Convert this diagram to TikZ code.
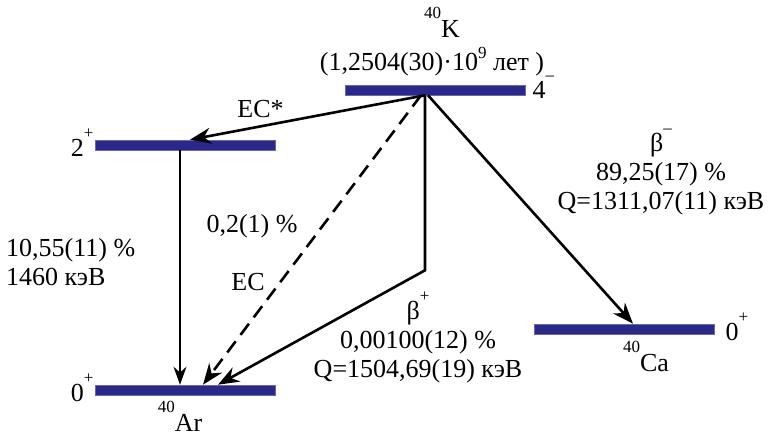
\documentclass[tikz,border=0pt]{standalone}
\usepackage{fontspec}
\setmainfont{Liberation Serif}
\usetikzlibrary{arrows.meta, positioning, calc}
\definecolor{levelblue}{RGB}{42,40,138}
\newcommand{\iso}[2]{\raisebox{0.75em}[0pt][0pt]{\fontsize{17}{17}\selectfont #1}#2}
\newcommand{\spn}[2]{#1\raisebox{0.7em}[0pt][0pt]{\fontsize{17}{17}\selectfont #2}}

\begin{document}
\begin{tikzpicture}[
  x=1pt, y=-1pt,
  level/.style={rectangle, fill=levelblue, draw=levelblue!70, line width=0.6pt,
                minimum width=180pt, minimum height=10pt, inner sep=0pt},
  lbl/.style={font=\fontsize{26}{29}\selectfont, inner sep=1pt, align=center},
  arr/.style={-{Stealth[length=21pt,width=16pt]}, line width=2.6pt},
  thinarr/.style={-{Stealth[length=18pt,width=13pt]}, line width=1.2pt},
]
\useasboundingbox (0,0) rectangle (768,439);

% levels
\node[level] (K) at (435,90) {};
\node[level] (L2) at (185,145) {};
\node[level] (Ar) at (185,390) {};
\node[level] (Ca) at (624,329) {};

% spins and parities
\node[lbl, right=6pt of K] (sK) {\spn{4}{\textendash}};
\node[lbl, left=0pt of L2, yshift=-3pt] (sL2) {\spn{2}{+}};
\node[lbl, left=0pt of Ar, yshift=-3pt] (sAr) {\spn{0}{+}};
\node[lbl, right=10pt of Ca, yshift=-3pt] (sCa) {\spn{0}{+}};

% nuclides
\node[lbl] (nK) at (442,29) {\iso{40}{K}};
\node[lbl] (tK) at (432,64) {(1,2504(30)·10\raisebox{0.45em}[0pt][0pt]{\fontsize{17}{17}\selectfont 9} лет )};
\node[lbl, below=18pt of Ar, xshift=-5pt] (nAr) {\iso{40}{Ar}};
\node[lbl, below=19pt of Ca, xshift=22pt] (nCa) {\iso{40}{Ca}};

% transitions
\coordinate (src) at ([xshift=-10pt]K.south);
\coordinate (kink) at ([yshift=-175pt]src);

\draw[arr] (src) -- ([xshift=5pt]L2.north) node[pos=0.7, above=6pt, lbl] (ecs) {EC*};
\draw[thinarr] ([xshift=-5pt]L2.south) -- ([xshift=-5pt]Ar.north);
\draw[arr, dash pattern=on 14pt off 8pt] ([xshift=-4pt]src) -- ([xshift=18pt]Ar.north);
\draw[arr] (src) -- (kink) -- ([xshift=33pt]Ar.north);
\draw[arr] ([xshift=3pt]src) -- ([xshift=9pt]Ca.north);

% branch labels
\node[lbl, anchor=west, align=left] (gam) at (5,262) {10,55(11) \%\\1460 кэВ};
\node[lbl] (ecp) at (252,226) {0,2(1) \%};
\node[lbl] (ec) at (248,282) {EC};
\node[lbl] (bp) at (418,342) {\spn{β}{+}\\0,00100(12) \%\\Q=1504,69(19) кэВ};
\node[lbl] (bm) at (661,174) {\spn{β}{\textendash}\\89,25(17) \%\\Q=1311,07(11) кэВ};

\end{tikzpicture}
\end{document}
